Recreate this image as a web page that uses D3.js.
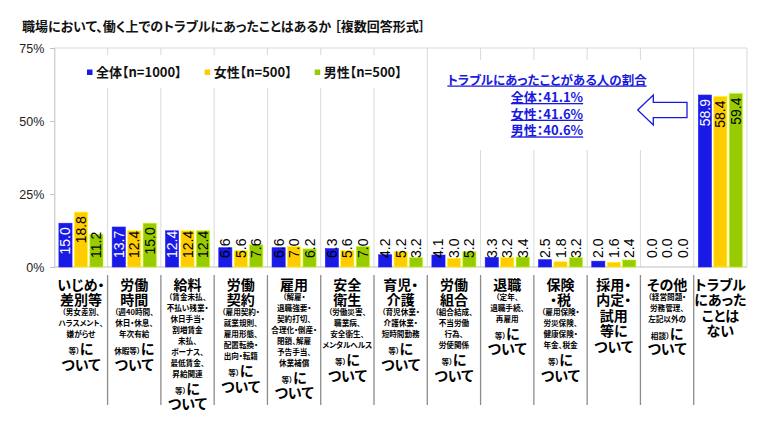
<!DOCTYPE html>
<html>
<head>
<meta charset="utf-8">
<script src="https://cdn.jsdelivr.net/npm/d3@7"></script>
<style>
  body { margin: 0; background: #fff; }
  text { font-feature-settings: "palt"; }
</style>
</head>
<body>
<svg id="chart" width="761" height="435"></svg>
<script>
const chartTitle = '職場において、働く上でのトラブルにあったことはあるか ［複数回答形式］';

const seriesNames = ['全体【n=1000】', '女性【n=500】', '男性【n=500】'];
const seriesColors = ['#1a1ae6', '#ffcc00', '#99cc00'];

// lines of each category label; {...} = small text
const categoryLabels = [
  ['いじめ・', '差別等', '{（男女差別、}', '{ハラスメント、}', '{嫌がらせ}', '{等）}に', 'ついて'],
  ['労働', '時間', '{（週40時間、}', '{休日・休息、}', '{年次有給}', '{休暇等）}に', 'ついて'],
  ['給料', '{（賃金未払、}', '{不払い残業・}', '{休日手当・}', '{割増賃金}', '{未払、}', '{ボーナス、}', '{最低賃金、}', '{昇給関連}', '{等）}に', 'ついて'],
  ['労働', '契約', '{（雇用契約・}', '{就業規則、}', '{雇用形態、}', '{配置転換・}', '{出向・転籍}', '{等）}に', 'ついて'],
  ['雇用', '{（解雇・}', '{退職強要・}', '{契約打切、}', '{合理化・倒産・}', '{閉鎖、解雇}', '{予告手当、}', '{休業補償}', '{等）}に', 'ついて'],
  ['安全', '衛生', '{（労働災害、}', '{職業病、}', '{安全衛生、}', '{メンタルヘルス}', '{等）}に', 'ついて'],
  ['育児・', '介護', '{（育児休業・}', '{介護休業・}', '{短時間勤務}', '{等）}に', 'ついて'],
  ['労働', '組合', '{（組合結成、}', '{不当労働}', '{行為、}', '{労使関係}', '{等）}に', 'ついて'],
  ['退職', '{（定年、}', '{退職手続、}', '{再雇用}', '{等）}に', 'ついて'],
  ['保険', '・税', '{（雇用保険・}', '{労災保険、}', '{健康保険・}', '{年金、税金}', '{等）}に', 'ついて'],
  ['採用・', '内定・', '試用', '等に', 'ついて'],
  ['その他', '{（経営問題・}', '{労務管理、}', '{左記以外の}', '{相談）}に', 'ついて'],
  ['トラブル', 'にあった', 'ことは', 'ない']
];
const categories = categoryLabels.map(l => l.join('').replace(/[{}]/g, ''));

const totalValues  = [15.0, 13.7, 12.4, 6.6, 6.6, 6.3, 4.2, 4.1, 3.3, 2.5, 2.0, 0.0, 58.9];
const femaleValues = [18.8, 12.4, 12.4, 5.6, 7.0, 5.6, 5.2, 3.0, 3.2, 1.8, 1.6, 0.0, 58.4];
const maleValues   = [11.2, 15.0, 12.4, 7.6, 6.2, 7.0, 3.2, 5.2, 3.4, 3.2, 2.4, 0.0, 59.4];
const seriesValues = [totalValues, femaleValues, maleValues];

const yTicks = [0, 25, 50, 75];

const calloutTitle = 'トラブルにあったことがある人の割合';
const groupNames = ['全体', '女性', '男性'];
const experiencedRates = [41.1, 41.6, 40.6];

const JP = '"Noto Sans CJK JP", "Noto Sans", sans-serif';
const NUM = '"Liberation Sans", Arial, sans-serif';

const svg = d3.select('#chart');
const margin = { left: 54.3, right: 14, top: 48, bottom: 168 };
const W = 761, H = 435;

const x = d3.scaleBand().domain(categories).range([margin.left, W - margin.right]);
const xs = d3.scaleBand().domain(d3.range(3)).range([4.6, x.bandwidth() - 4.6]).paddingInner(0.15);
const y = d3.scaleLinear().domain([0, 75]).range([H - margin.bottom, margin.top]);

// title
svg.append('text')
  .attr('x', 22).attr('y', 31)
  .style('font-family', JP).style('font-size', '13px').style('font-weight', 700)
  .attr('fill', '#111')
  .text(chartTitle);

// plot frame: top line + vertical grid lines
svg.append('line')
  .attr('x1', x.range()[0]).attr('x2', x.range()[1])
  .attr('y1', y(75)).attr('y2', y(75))
  .attr('stroke', '#d9d9d9');
svg.append('g').selectAll('line')
  .data(categories.slice(1).concat([null]))
  .join('line')
  .attr('x1', (d, i) => x.range()[0] + x.bandwidth() * (i + 1))
  .attr('x2', (d, i) => x.range()[0] + x.bandwidth() * (i + 1))
  .attr('y1', y(75)).attr('y2', y(0))
  .attr('stroke', '#d9d9d9');

// white boxes behind legend and callout
svg.append('rect').attr('x', 60).attr('y', 55).attr('width', 362).attr('height', 33).attr('fill', '#fff');
svg.append('rect').attr('x', 440).attr('y', 60).attr('width', 250).attr('height', 90).attr('fill', '#fff');

// y axis
const yAxis = svg.append('g')
  .attr('transform', `translate(${margin.left},0)`)
  .call(d3.axisLeft(y).tickValues(yTicks).tickFormat(d => d + '%').tickSize(4).tickPadding(6));
yAxis.select('.domain').attr('stroke', '#bfbfbf');
yAxis.selectAll('.tick line').attr('stroke', '#bfbfbf');
yAxis.selectAll('.tick text')
  .style('font-family', NUM).style('font-size', '12.5px').attr('fill', '#222');

// x baseline
svg.append('line')
  .attr('x1', x.range()[0]).attr('x2', x.range()[1])
  .attr('y1', y(0)).attr('y2', y(0))
  .attr('stroke', '#bfbfbf');

// bars
const rows = categories.map((c, i) => seriesValues.map((vals, s) => ({ c, s, v: vals[i] })));
const groups = svg.append('g').selectAll('g')
  .data(rows)
  .join('g')
  .attr('transform', (d, i) => `translate(${x(categories[i])},0)`);

groups.selectAll('rect')
  .data(d => d)
  .join('rect')
  .attr('x', d => xs(d.s))
  .attr('width', xs.bandwidth())
  .attr('y', d => y(d.v))
  .attr('height', d => y(0) - y(d.v))
  .attr('fill', d => seriesColors[d.s])
  .attr('stroke', d => d3.color(seriesColors[d.s]).brighter(0.6))
  .attr('stroke-width', 0.6);

// value labels (rotated)
const labelFloor = y(0) - 9;
groups.selectAll('text.val')
  .data(d => d)
  .join('text')
  .attr('class', 'val')
  .style('font-family', NUM).style('font-size', '14px')
  .attr('text-anchor', 'end')
  .attr('dominant-baseline', 'central')
  .text(d => d.v.toFixed(1))
  .each(function (d) {
    const len = this.getComputedTextLength();
    const top = y(d.v);
    const ty = Math.min(top + 4, labelFloor - len);
    const cx = xs(d.s) + xs.bandwidth() / 2;
    d3.select(this)
      .attr('transform', `translate(${cx},${ty}) rotate(-90)`)
      .attr('fill', d.s === 0 && ty >= top - 2 ? '#fff' : '#000');
  });

// category separators
svg.append('g').selectAll('line')
  .data(categories.slice(1))
  .join('line')
  .attr('x1', d => x(d)).attr('x2', d => x(d))
  .attr('y1', y(0) + 8).attr('y2', 405)
  .attr('stroke', '#8c8c8c').attr('stroke-width', 1.3);

// category labels
const bigSize = 14, smallSize = 7.6;
const isSmall = line => /^\{[^}]*\}$/.test(line);
const gap = (a, b) => (a ? (b ? 11 : 14.5) : (b ? 12.5 : 15.5));

categoryLabels.forEach((lines, i) => {
  const cx = x(categories[i]) + x.bandwidth() / 2;
  let cy = 284.5;
  lines.forEach((line, j) => {
    if (j > 0) cy += gap(isSmall(lines[j - 1]), isSmall(line));
    const small = isSmall(line);
    const t = svg.append('text')
      .attr('x', cx)
      .attr('y', cy + (small ? smallSize : bigSize) * 0.38)
      .attr('text-anchor', 'middle')
      .style('font-family', JP).style('font-weight', 700)
      .attr('fill', '#000');
    line.split(/(\{[^}]*\})/).filter(s => s).forEach(seg => {
      const sm = seg.startsWith('{');
      t.append('tspan')
        .style('font-size', (sm ? smallSize : bigSize) + 'px')
        .text(sm ? seg.slice(1, -1) : seg);
    });
  });
});

// legend
let lx = 87;
seriesNames.forEach((name, s) => {
  svg.append('rect')
    .attr('x', lx).attr('y', 69.5).attr('width', 5.5).attr('height', 5.5)
    .attr('fill', seriesColors[s]);
  const t = svg.append('text')
    .attr('x', lx + 9).attr('y', 77)
    .style('font-family', JP).style('font-size', '13px').style('font-weight', 700)
    .attr('fill', '#111')
    .text(name);
  lx += 9 + t.node().getComputedTextLength() + 23;
});

// callout
const calloutColor = '#1a1ade';
const cxc = 547;
svg.append('text')
  .attr('x', cxc).attr('y', 84.5)
  .attr('text-anchor', 'middle')
  .style('font-family', JP).style('font-size', '12.5px').style('font-weight', 700)
  .style('text-decoration', 'underline')
  .attr('fill', calloutColor)
  .text(calloutTitle);
groupNames.forEach((g, i) => {
  svg.append('text')
    .attr('x', cxc).attr('y', 102 + i * 16.7)
    .attr('text-anchor', 'middle')
    .style('font-family', JP).style('font-size', '13px').style('font-weight', 700)
    .style('text-decoration', 'underline')
    .attr('fill', calloutColor)
    .text(`${g}：${experiencedRates[i].toFixed(1)}%`);
});

// arrow pointing left
svg.append('path')
  .attr('d', 'M637.7,110 L653.3,95 L653.3,102.3 L687,102.3 L687,117.7 L653.3,117.7 L653.3,125 Z')
  .attr('fill', '#fff')
  .attr('stroke', calloutColor)
  .attr('stroke-width', 1.3);
</script>
</body>
</html>
